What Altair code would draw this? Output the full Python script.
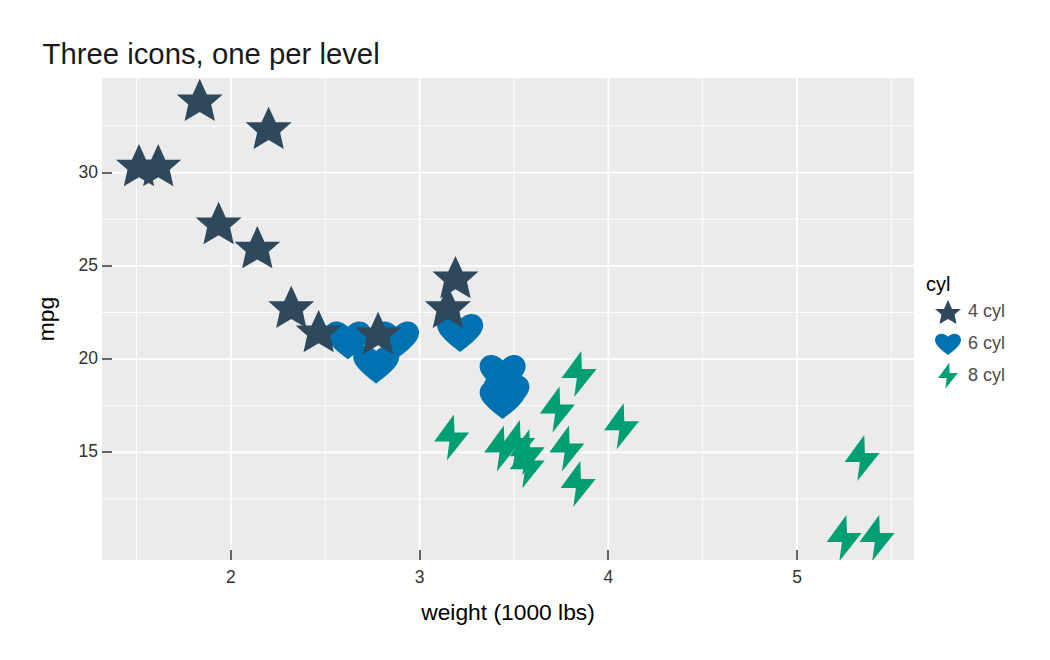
import altair as alt
import pandas as pd

wt = [2.62, 2.875, 2.32, 3.215, 3.44, 3.46, 3.57, 3.19, 3.15, 3.44, 3.44, 4.07, 3.73, 3.78, 5.25, 5.424,
      5.345, 2.2, 1.615, 1.835, 2.465, 3.52, 3.435, 3.84, 3.845, 1.935, 2.14, 1.513, 3.17, 2.77, 3.57, 2.78]
mpg = [21, 21, 22.8, 21.4, 18.7, 18.1, 14.3, 24.4, 22.8, 19.2, 17.8, 16.4, 17.3, 15.2, 10.4, 10.4,
       14.7, 32.4, 30.4, 33.9, 21.5, 15.5, 15.2, 13.3, 19.2, 27.3, 26, 30.4, 15.8, 19.7, 15, 21.4]
cyl = [6, 6, 4, 6, 8, 6, 8, 4, 4, 6, 6, 8, 8, 8, 8, 8, 8, 4, 4, 4, 4, 8, 8, 8, 8, 4, 4, 4, 8, 6, 8, 4]

levels = ["4 cyl", "6 cyl", "8 cyl"]
colors = ["#2E485C", "#0072B2", "#009E73"]
STAR = ("M0,-0.92 L0.31,-0.24 L1,-0.24 L0.5,0.2 L0.66,0.92 L0,0.53 L-0.66,0.92 L-0.5,0.2 "
        "L-1,-0.24 L-0.31,-0.24 Z")
HEART = ("M0,0.825 C-0.35,0.55 -1,0.1 -1,-0.33 C-1,-0.62 -0.78,-0.825 -0.5,-0.825 "
         "C-0.3,-0.825 -0.12,-0.72 0,-0.59 C0.12,-0.72 0.3,-0.825 0.5,-0.825 "
         "C0.78,-0.825 1,-0.62 1,-0.33 C1,0.1 0.35,0.55 0,0.825 Z")
BOLT = "M0.094,-1 L-0.761,0.174 L-0.094,0.174 L-0.21,1 L0.761,-0.217 L0.123,-0.217 Z"
shapes = [STAR, HEART, BOLT]

x_major = [2, 3, 4, 5]
x_minor = [1.5, 2.5, 3.5, 4.5, 5.5]
y_major = [15, 20, 25, 30]
y_minor = [12.5, 17.5, 22.5, 27.5, 32.5]
x_domain = [1.317, 5.620]
y_domain = [9.225, 35.075]

FONT = "Liberation Sans"
df = pd.DataFrame({"wt": wt, "mpg": mpg, "cyl": [f"{c} cyl" for c in cyl]})
xs = alt.Scale(domain=x_domain, nice=False, zero=False)
ys = alt.Scale(domain=y_domain, nice=False, zero=False)

x_axis = alt.Axis(
    title="weight (1000 lbs)", values=x_major, format="d", grid=False, domain=False, offset=-10,
    zindex=1, translate=0,
    tickSize=10, tickWidth=1.5, tickColor="#333333", labelPadding=9, labelFont=FONT, labelFontSize=17.5,
    labelColor="#333333", titleFont=FONT, titleFontSize=22.8, titleFontWeight="normal", titleColor="#000000",
    titlePadding=15)
y_axis = alt.Axis(
    title="mpg", values=y_major, format="d", grid=False, domain=False, offset=-10,
    zindex=1, translate=0,
    tickSize=10, tickWidth=1.5, tickColor="#333333", labelPadding=4, labelFont=FONT, labelFontSize=17.5,
    labelColor="#333333", titleFont=FONT, titleFontSize=22.8, titleFontWeight="normal", titleColor="#000000",
    titlePadding=20)


def vgrid(vals, w):
    return alt.Chart(pd.DataFrame({"v": vals})).mark_rule(color="white", strokeWidth=w).encode(
        x=alt.X("v:Q", scale=xs, axis=x_axis))


def hgrid(vals, w):
    return alt.Chart(pd.DataFrame({"v": vals})).mark_rule(color="white", strokeWidth=w).encode(
        y=alt.Y("v:Q", scale=ys, axis=y_axis))


points = alt.Chart(df).mark_point(filled=True, size=2116, opacity=1, clip=True, strokeWidth=0).encode(
    x=alt.X("wt:Q", scale=xs, axis=x_axis),
    y=alt.Y("mpg:Q", scale=ys, axis=y_axis),
    color=alt.Color("cyl:N", scale=alt.Scale(domain=levels, range=colors), legend=alt.Legend(
        title="cyl", orient="none", legendX=824, legendY=197, symbolSize=676, symbolOffset=9,
        symbolStrokeWidth=0, labelOffset=7, rowPadding=7.4, titlePadding=4, padding=0,
        titleFont=FONT, titleFontSize=20, titleFontWeight="normal", titleColor="#000000",
        labelFont=FONT, labelFontSize=18, labelColor="#4D4D4D")),
    shape=alt.Shape("cyl:N", scale=alt.Scale(domain=levels, range=shapes)),
)

chart = alt.layer(
    vgrid(x_minor, 0.9), hgrid(y_minor, 0.9), vgrid(x_major, 1.7), hgrid(y_major, 1.7), points
).properties(
    width=812, height=482,
    title=alt.TitleParams("Three icons, one per level", anchor="start", dx=7, offset=7, font=FONT,
                          fontSize=29.3, fontWeight="normal", color="#1A1A1A"),
    padding={"left": 94, "top": 70, "right": 120, "bottom": 80},
    autosize=alt.AutoSizeParams(type="none"),
).configure_view(fill="#EBEBEB", stroke=None)

chart.save("out.html", embed_options={"renderer": "svg", "actions": False})
